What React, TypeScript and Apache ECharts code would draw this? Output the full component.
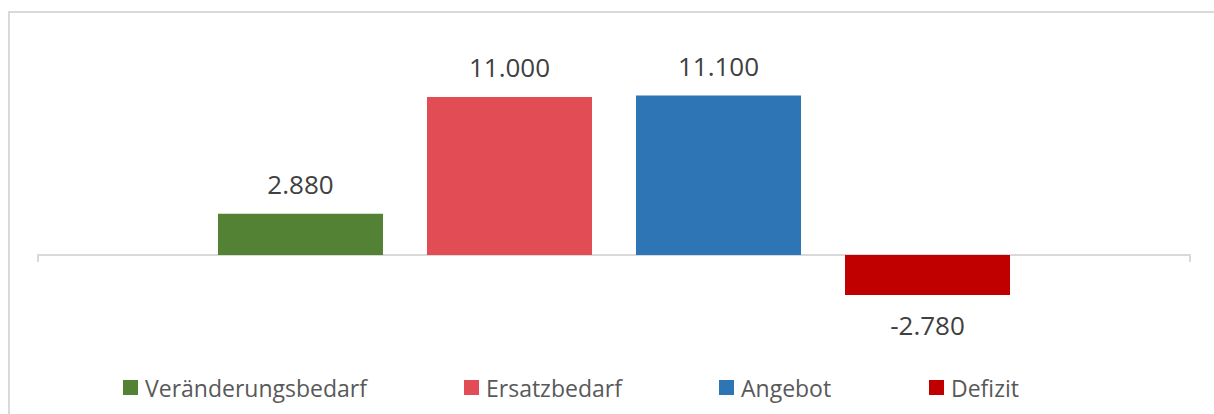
import React, { useEffect, useRef } from "react";
import * as echarts from "echarts";

const categories = [""];
const seriesNames = ["Veränderungsbedarf", "Ersatzbedarf", "Angebot", "Defizit"];
const seriesValues = [2880, 11000, 11100, -2780];
const seriesColors = ["#548235", "#E24C55", "#2E75B6", "#C00000"];
const legendLefts = [123, 464, 719, 929];

const FONT = "'Open Sans', 'Noto Sans', sans-serif";

const fmt = (v: number) => {
  const s = Math.abs(v).toString().replace(/\B(?=(\d{3})+(?!\d))/g, ".");
  return (v < 0 ? "-" : "") + s;
};

export default function App() {
  const ref = useRef<HTMLDivElement>(null);
  useEffect(() => {
    if (!ref.current) return;
    const chart = echarts.init(ref.current, null, { renderer: "svg" });
    chart.setOption({
      animation: false,
      grid: { left: 38, right: 24, top: 82.6, bottom: 101.5 },
      xAxis: {
        type: "category",
        data: categories,
        axisLine: { show: true, onZero: true, lineStyle: { color: "#d9d9d9", width: 2 } },
        axisTick: { show: true, length: 7, lineStyle: { color: "#d9d9d9", width: 2 } },
        axisLabel: { show: false },
        splitLine: { show: false },
      },
      yAxis: {
        type: "value",
        min: -4000,
        max: 12000,
        show: false,
        splitLine: { show: false },
      },
      legend: seriesNames.map((n, i) => ({
        data: [n],
        left: legendLefts[i],
        top: 376,
        padding: 0,
        icon: "rect",
        itemWidth: 15,
        itemHeight: 15,
        itemGap: 0,
        textStyle: {
          fontSize: 23,
          color: "#595959",
          fontFamily: FONT,
          padding: [0, 0, 0, 2],
        },
      })),
      series: seriesNames.map((n, i) => ({
        name: n,
        type: "bar",
        barWidth: 165,
        barGap: "26.67%",
        itemStyle: { color: seriesColors[i] },
        data: [
          {
            value: seriesValues[i],
            label: {
              show: true,
              position: seriesValues[i] < 0 ? "bottom" : "top",
              distance: seriesValues[i] < 0 ? 17 : 17,
              formatter: () => fmt(seriesValues[i]),
              fontSize: 26,
              lineHeight: 26,
              color: "#404040",
              fontFamily: FONT,
            },
          },
        ],
      })),
    });
    return () => chart.dispose();
  }, []);
  return (
    <div
      style={{
        position: "fixed",
        left: 0,
        top: 0,
        width: 1214,
        height: 414,
        overflow: "hidden",
        background: "#fff",
      }}
    >
      <div
        style={{
          position: "absolute",
          left: 8,
          top: 11,
          width: 1400,
          height: 600,
          border: "2px solid #d9d9d9",
        }}
      />
      <div
        ref={ref}
        style={{ position: "absolute", left: 0, top: 0, width: 1214, height: 414 }}
      />
    </div>
  );
}
